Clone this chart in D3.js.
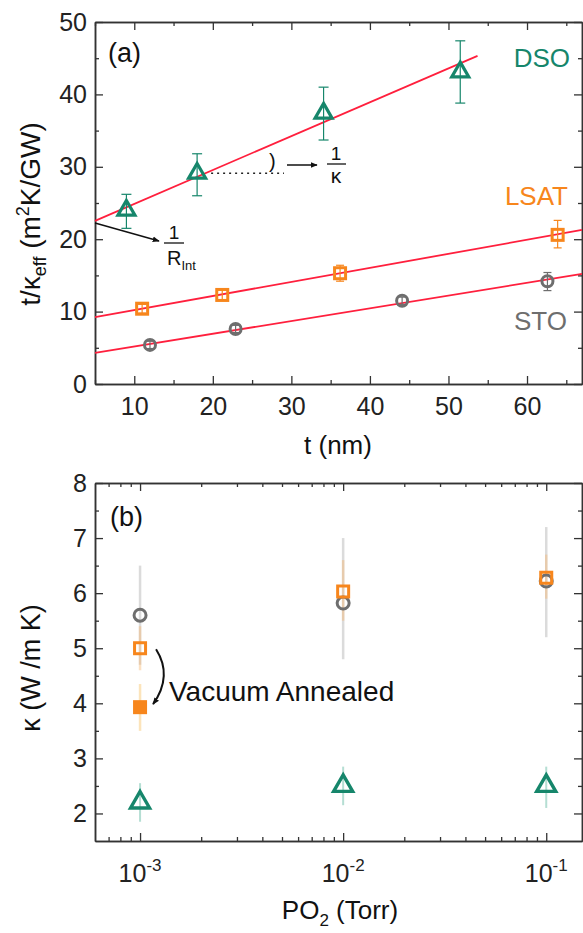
<!DOCTYPE html>
<html>
<head>
<meta charset="utf-8">
<script src="https://cdn.jsdelivr.net/npm/d3@7"></script>
<style>
  body { margin: 0; background: #fff; }
  text { font-family: "Liberation Sans", Arial, sans-serif; }
</style>
</head>
<body>
<div id="container"></div>
<script>
// ---- panel (a): t / kappa_eff vs t ----
var dsoT = [9, 18, 34.1, 51.5]
var dsoR = [24, 29.1, 37.4, 43.1]
var dsoErr = [[21.5, 26.2], [26, 31.8], [33.7, 41], [38.8, 47.4]]

var lsatT = [11, 21.2, 36.2, 63.9]
var lsatR = [10.4, 12.3, 15.3, 20.6]
var lsatErr = [[9.8, 11], [11.6, 13], [14.2, 16.4], [18.8, 22.6]]

var stoT = [12, 22.9, 44.1, 62.6]
var stoR = [5.4, 7.6, 11.5, 14.2]
var stoErr = [[4.9, 5.9], [7.1, 8.1], [11, 12], [12.9, 15.4]]

// linear fits: intercept, slope, t range drawn
var fitNames = ["DSO", "LSAT", "STO"]
var fitIntercept = [20.2, 8.28, 3.42]
var fitSlope = [0.468, 0.194, 0.176]
var fitStart = [5, 5, 5]
var fitEnd = [53.7, 67, 67]

var aXTicks = [10, 20, 30, 40, 50, 60]
var aXMinor = [5, 15, 25, 35, 45, 55, 65]
var aYTicks = [0, 10, 20, 30, 40, 50]
var aYMinor = [5, 15, 25, 35, 45]

// ---- panel (b): kappa vs PO2 ----
var po2 = [1e-3, 1e-2, 1e-1]
var stoK = [5.6, 5.82, 6.22]
var stoKErr = [[4.7, 6.5], [4.8, 7.0], [5.2, 7.2]]
var lsatK = [5.0, 6.03, 6.28]
var lsatKErr = [[4.6, 5.4], [5.5, 6.6], [5.9, 6.7]]
var lsatVacK = [3.93]
var lsatVacErr = [[3.5, 4.35]]
var dsoK = [2.2, 2.5, 2.5]
var dsoKErr = [[1.85, 2.55], [2.15, 2.85], [2.1, 2.85]]

var bXTicks = [1e-3, 1e-2, 1e-1]
var bXTickExp = ["-3", "-2", "-1"]
var bXMinor = [7e-4, 8e-4, 9e-4, 2e-3, 3e-3, 4e-3, 5e-3, 6e-3, 7e-3, 8e-3, 9e-3,
               2e-2, 3e-2, 4e-2, 5e-2, 6e-2, 7e-2, 8e-2, 9e-2]
var bYTicks = [2, 3, 4, 5, 6, 7, 8]
var bYMinor = [2.5, 3.5, 4.5, 5.5, 6.5, 7.5]

var teal = "#16866b", orange = "#f7861c", gray = "#6e6e6e", red = "#ff1f3d"
var axisColor = "#333"

var svg = d3.select("#container")
  .append("svg")
  .attr("width", 583)
  .attr("height", 933)

svg.append("defs").append("marker")
  .attr("id", "arrow")
  .attr("viewBox", "0 0 10 10")
  .attr("refX", 9).attr("refY", 5)
  .attr("markerWidth", 7).attr("markerHeight", 7)
  .attr("markerUnits", "userSpaceOnUse")
  .attr("orient", "auto")
  .append("path")
  .attr("d", "M0,1L10,5L0,9Z")
  .attr("fill", "#111")

var xA = d3.scaleLinear().domain([5, 67]).range([95, 582])
var yA = d3.scaleLinear().domain([0, 50]).range([384, 22])
var xB = d3.scaleLog().domain([6e-4, 0.15]).range([95, 582])
var yB = d3.scaleLinear().domain([1.5, 8]).range([841, 483])

function styleAxis(g) {
  g.select(".domain").attr("stroke", axisColor).attr("stroke-width", 1.5)
  g.selectAll(".tick line").attr("stroke", axisColor).attr("stroke-width", 1.3)
  g.attr("font-family", "Liberation Sans, Arial, sans-serif")
    .attr("font-size", 25)
  g.selectAll(".tick text").attr("fill", "#222")
}

// frame with inward ticks on all four sides
function drawFrame(x, y, xMajor, xMinor, yMajor, yMinor, xLabels) {
  var x0 = x.range()[0], x1 = x.range()[1]
  var y0 = y.range()[0], y1 = y.range()[1]
  var g = svg.append("g")

  var bottom = d3.axisBottom(x).tickValues(xMajor).tickSize(-8).tickSizeOuter(0).tickPadding(13)
    .tickFormat(xLabels ? d3.format("d") : "")
  g.append("g").attr("transform", "translate(0," + y0 + ")").call(bottom).call(styleAxis)
  g.append("g").attr("transform", "translate(0," + y0 + ")")
    .call(d3.axisBottom(x).tickValues(xMinor).tickSize(-4).tickSizeOuter(0).tickFormat("")).call(styleAxis)
  g.append("g").attr("transform", "translate(0," + y1 + ")")
    .call(d3.axisTop(x).tickValues(xMajor).tickSize(-8).tickSizeOuter(0).tickFormat("")).call(styleAxis)
  g.append("g").attr("transform", "translate(0," + y1 + ")")
    .call(d3.axisTop(x).tickValues(xMinor).tickSize(-4).tickSizeOuter(0).tickFormat("")).call(styleAxis)

  g.append("g").attr("transform", "translate(" + x0 + ",0)")
    .call(d3.axisLeft(y).tickValues(yMajor).tickSize(-8).tickSizeOuter(0).tickPadding(8)
      .tickFormat(d3.format("d"))).call(styleAxis)
  g.append("g").attr("transform", "translate(" + x0 + ",0)")
    .call(d3.axisLeft(y).tickValues(yMinor).tickSize(-4).tickSizeOuter(0).tickFormat("")).call(styleAxis)
  g.append("g").attr("transform", "translate(" + x1 + ",0)")
    .call(d3.axisRight(y).tickValues(yMajor).tickSize(-8).tickSizeOuter(0).tickFormat("")).call(styleAxis)
  g.append("g").attr("transform", "translate(" + x1 + ",0)")
    .call(d3.axisRight(y).tickValues(yMinor).tickSize(-4).tickSizeOuter(0).tickFormat("")).call(styleAxis)
  return g
}

function triPath(s) {
  var h = s * 0.866
  return "M0," + (-2 * h / 3) + "L" + (s / 2) + "," + (h / 3) + "L" + (-s / 2) + "," + (h / 3) + "Z"
}

function errorBars(g, xs, errs, x, y, color, width, cap, opacity) {
  var eg = g.append("g").attr("stroke", color).attr("stroke-width", width).attr("opacity", opacity)
  eg.selectAll("line.v").data(errs).enter().append("line")
    .attr("x1", (d, i) => x(xs[i])).attr("x2", (d, i) => x(xs[i]))
    .attr("y1", d => y(d[0])).attr("y2", d => y(d[1]))
  if (cap > 0) {
    eg.selectAll("line.t").data(errs).enter().append("line")
      .attr("x1", (d, i) => x(xs[i]) - cap).attr("x2", (d, i) => x(xs[i]) + cap)
      .attr("y1", d => y(d[1])).attr("y2", d => y(d[1]))
    eg.selectAll("line.b").data(errs).enter().append("line")
      .attr("x1", (d, i) => x(xs[i]) - cap).attr("x2", (d, i) => x(xs[i]) + cap)
      .attr("y1", d => y(d[0])).attr("y2", d => y(d[0]))
  }
}

function triangles(g, xs, ys, x, y, size, sw) {
  g.append("g").selectAll("path").data(ys).enter().append("path")
    .attr("d", triPath(size))
    .attr("transform", (d, i) => "translate(" + x(xs[i]) + "," + y(d) + ")")
    .attr("fill", "none").attr("stroke", teal).attr("stroke-width", sw)
    .attr("stroke-linejoin", "miter")
}

function squares(g, xs, ys, x, y, size, sw, filled) {
  g.append("g").selectAll("rect").data(ys).enter().append("rect")
    .attr("x", (d, i) => x(xs[i]) - size / 2).attr("y", d => y(d) - size / 2)
    .attr("width", size).attr("height", size)
    .attr("fill", filled ? orange : "none").attr("stroke", orange).attr("stroke-width", sw)
}

function circles(g, xs, ys, x, y, r, sw) {
  g.append("g").selectAll("circle").data(ys).enter().append("circle")
    .attr("cx", (d, i) => x(xs[i])).attr("cy", d => y(d)).attr("r", r)
    .attr("fill", "none").attr("stroke", gray).attr("stroke-width", sw)
}

// ================= panel (a) =================
drawFrame(xA, yA, aXTicks, aXMinor, aYTicks, aYMinor, true)

var pa = svg.append("g")

// fit lines
pa.append("g").selectAll("line").data(fitNames).enter().append("line")
  .attr("x1", (d, i) => xA(fitStart[i]))
  .attr("y1", (d, i) => yA(fitIntercept[i] + fitSlope[i] * fitStart[i]))
  .attr("x2", (d, i) => xA(fitEnd[i]))
  .attr("y2", (d, i) => yA(fitIntercept[i] + fitSlope[i] * fitEnd[i]))
  .attr("stroke", red).attr("stroke-width", 1.8)

errorBars(pa, dsoT, dsoErr, xA, yA, teal, 1.2, 5, 1)
errorBars(pa, lsatT, lsatErr, xA, yA, orange, 1.2, 4, 1)
errorBars(pa, stoT, stoErr, xA, yA, gray, 1.2, 4, 1)

triangles(pa, dsoT, dsoR, xA, yA, 17, 3.2)
squares(pa, lsatT, lsatR, xA, yA, 11, 3, false)
circles(pa, stoT, stoR, xA, yA, 5.5, 3)

pa.append("text").attr("x", 108).attr("y", 62).attr("font-size", 27).attr("fill", "#111").text("(a)")
pa.append("text").attr("x", 570).attr("y", 67).attr("text-anchor", "end").attr("font-size", 26).attr("fill", teal).text("DSO")
pa.append("text").attr("x", 568).attr("y", 205).attr("text-anchor", "end").attr("font-size", 26).attr("fill", orange).text("LSAT")
pa.append("text").attr("x", 567).attr("y", 330).attr("text-anchor", "end").attr("font-size", 26).attr("fill", gray).text("STO")

// 1/kappa annotation
pa.append("line")
  .attr("x1", xA(dsoT[1]) + 14).attr("x2", 284)
  .attr("y1", yA(dsoR[1])).attr("y2", yA(dsoR[1]))
  .attr("stroke", "#222").attr("stroke-width", 1.5).attr("stroke-dasharray", "2,4")
pa.append("text").attr("x", 269).attr("y", 168).attr("font-size", 20).attr("fill", "#111").text(")")
pa.append("line").attr("x1", 287).attr("y1", 165).attr("x2", 317).attr("y2", 165)
  .attr("stroke", "#111").attr("stroke-width", 1.5).attr("marker-end", "url(#arrow)")
pa.append("text").attr("x", 336).attr("y", 160).attr("text-anchor", "middle").attr("font-size", 19).attr("fill", "#111").text("1")
pa.append("line").attr("x1", 327).attr("x2", 346).attr("y1", 164).attr("y2", 164).attr("stroke", "#111").attr("stroke-width", 1.3)
pa.append("text").attr("x", 336).attr("y", 183).attr("text-anchor", "middle").attr("font-size", 21).attr("fill", "#111").text("κ")

// 1/R_Int annotation
pa.append("line").attr("x1", 95).attr("y1", 223).attr("x2", 159).attr("y2", 241)
  .attr("stroke", "#111").attr("stroke-width", 1.5).attr("marker-end", "url(#arrow)")
pa.append("text").attr("x", 174).attr("y", 239).attr("text-anchor", "middle").attr("font-size", 19).attr("fill", "#111").text("1")
pa.append("line").attr("x1", 164).attr("x2", 184).attr("y1", 243).attr("y2", 243).attr("stroke", "#111").attr("stroke-width", 1.3)
var rint = pa.append("text").attr("x", 167).attr("y", 265).attr("font-size", 20).attr("fill", "#111")
rint.append("tspan").text("R")
rint.append("tspan").attr("font-size", 13).attr("dy", 5).text("Int")

// axis titles (a)
svg.append("text").attr("x", 338).attr("y", 454).attr("text-anchor", "middle")
  .attr("font-size", 26).attr("fill", "#111").text("t (nm)")
var ytA = svg.append("text").attr("transform", "translate(40,214) rotate(-90)")
  .attr("text-anchor", "middle").attr("font-size", 28).attr("fill", "#111")
ytA.append("tspan").text("t/κ")
ytA.append("tspan").attr("font-size", 18).attr("dy", 6).text("eff")
ytA.append("tspan").attr("dy", -6).text(" (m")
ytA.append("tspan").attr("font-size", 18).attr("dy", -11).text("2")
ytA.append("tspan").attr("dy", 11).text("K/GW)")

// ================= panel (b) =================
drawFrame(xB, yB, bXTicks, bXMinor, bYTicks, bYMinor, false)

var bl = svg.append("g").selectAll("text").data(bXTicks).enter().append("text")
  .attr("x", d => xB(d)).attr("y", 882).attr("text-anchor", "middle")
  .attr("font-size", 25).attr("fill", "#222")
bl.append("tspan").text("10")
bl.append("tspan").attr("font-size", 17).attr("dy", -11).text((d, i) => bXTickExp[i])

var pb = svg.append("g")
errorBars(pb, po2, stoKErr, xB, yB, "#9a9a9a", 2.5, 0, 0.35)
errorBars(pb, po2, lsatKErr, xB, yB, "#f9b56a", 2.5, 0, 0.4)
errorBars(pb, [po2[0]], lsatVacErr, xB, yB, "#f9c56a", 2.5, 0, 0.45)
errorBars(pb, po2, dsoKErr, xB, yB, "#5cb8a0", 2, 0, 0.45)

circles(pb, po2, stoK, xB, yB, 6, 3)
squares(pb, po2, lsatK, xB, yB, 11, 3, false)
squares(pb, [po2[0]], lsatVacK, xB, yB, 14, 0, true)
triangles(pb, po2, dsoK, xB, yB, 19, 3.4)

pb.append("text").attr("x", 110).attr("y", 526).attr("font-size", 27).attr("fill", "#111").text("(b)")

// vacuum annealed arrow
pb.append("path")
  .attr("d", "M" + (xB(po2[0]) + 16) + "," + (yB(lsatK[0]) + 1) + " Q173,676 " + (xB(po2[0]) + 13) + "," + (yB(lsatVacK[0]) - 3))
  .attr("fill", "none").attr("stroke", "#111").attr("stroke-width", 2)
  .attr("marker-end", "url(#arrow)")
pb.append("text").attr("x", 169).attr("y", 701).attr("font-size", 28).attr("fill", "#111").text("Vacuum Annealed")

// axis titles (b)
var xtB = svg.append("text").attr("x", 340).attr("y", 919).attr("text-anchor", "middle")
  .attr("font-size", 26).attr("fill", "#111")
xtB.append("tspan").text("PO")
xtB.append("tspan").attr("font-size", 17).attr("dy", 7).text("2")
xtB.append("tspan").attr("dy", -7).text(" (Torr)")
svg.append("text").attr("transform", "translate(40,668) rotate(-90)")
  .attr("text-anchor", "middle").attr("font-size", 27).attr("fill", "#111")
  .text("κ (W /m K)")
</script>
</body>
</html>
